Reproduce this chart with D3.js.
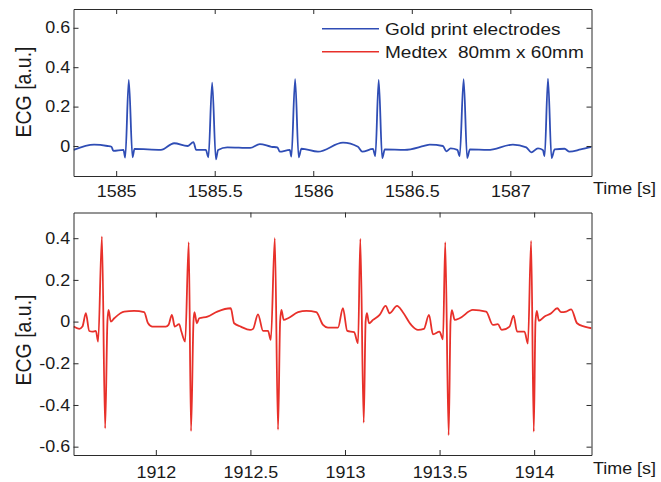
<!DOCTYPE html>
<html><head><meta charset="utf-8">
<script src="https://cdn.jsdelivr.net/npm/d3@7/dist/d3.min.js"></script>
<style>body{margin:0;background:#fff} svg{display:block}</style>
</head><body>
<svg id="chart" width="661" height="482"></svg>
<script>
// ---- data ----
const seriesNames = ["Gold print electrodes", "Medtex  80mm x 60mm"];
const goldTime = [1584.784, 1584.888, 1584.956, 1584.976, 1584.986, 1585.037, 1585.046, 1585.064, 1585.083, 1585.093,
  1585.227, 1585.294, 1585.362, 1585.392, 1585.406, 1585.455, 1585.468, 1585.487, 1585.506, 1585.517,
  1585.564, 1585.680, 1585.729, 1585.788, 1585.818, 1585.830, 1585.881, 1585.889, 1585.908, 1585.926,
  1585.940, 1586.024, 1586.151, 1586.227, 1586.249, 1586.303, 1586.315, 1586.332, 1586.350, 1586.363,
  1586.464, 1586.562, 1586.591, 1586.658, 1586.675, 1586.697, 1586.731, 1586.743, 1586.763, 1586.781,
  1586.795, 1586.886, 1587.013, 1587.081, 1587.106, 1587.140, 1587.165, 1587.174, 1587.191, 1587.209,
  1587.225, 1587.275, 1587.300, 1587.357, 1587.412];
const goldECG = [-0.020, 0.007, 0.000, -0.004, -0.025, -0.020, -0.059, 0.335, -0.057, -0.015,
  -0.020, 0.014, 0.000, 0.020, -0.020, -0.020, -0.057, 0.321, -0.068, -0.020,
  -0.007, -0.010, 0.010, -0.004, -0.007, -0.029, -0.020, -0.054, 0.339, -0.057,
  -0.014, -0.029, 0.017, -0.004, -0.029, -0.015, -0.051, 0.335, -0.062, -0.017,
  -0.020, 0.000, 0.007, 0.000, -0.027, -0.012, -0.020, -0.051, 0.339, -0.061,
  -0.017, -0.020, 0.007, -0.007, -0.032, -0.012, -0.020, -0.051, 0.342, -0.061,
  -0.017, -0.014, -0.029, -0.017, -0.004];
const medtexTime = [1911.565, 1911.595, 1911.612, 1911.630, 1911.648, 1911.665, 1911.683, 1911.695, 1911.715, 1911.732,
  1911.744, 1911.750, 1911.762, 1911.780, 1911.833, 1911.885, 1911.938, 1911.959, 1911.982, 1912.053,
  1912.067, 1912.085, 1912.100, 1912.123, 1912.135, 1912.155, 1912.174, 1912.186, 1912.199, 1912.204,
  1912.217, 1912.229, 1912.273, 1912.325, 1912.396, 1912.414, 1912.449, 1912.498, 1912.514, 1912.540,
  1912.567, 1912.593, 1912.608, 1912.629, 1912.646, 1912.657, 1912.664, 1912.676, 1912.699, 1912.752,
  1912.796, 1912.848, 1912.884, 1912.910, 1912.963, 1912.989, 1913.012, 1913.048, 1913.069, 1913.081,
  1913.099, 1913.109, 1913.116, 1913.127, 1913.148, 1913.183, 1913.215, 1913.236, 1913.275, 1913.306,
  1913.350, 1913.386, 1913.417, 1913.444, 1913.465, 1913.500, 1913.518, 1913.530, 1913.548, 1913.558,
  1913.565, 1913.580, 1913.606, 1913.676, 1913.746, 1913.782, 1913.808, 1913.829, 1913.870, 1913.891,
  1913.910, 1913.949, 1913.967, 1913.984, 1913.998, 1914.007, 1914.014, 1914.025, 1914.055, 1914.090,
  1914.122, 1914.143, 1914.169, 1914.196, 1914.227, 1914.266, 1914.303];
const medtexECG = [-0.024, -0.035, -0.024, 0.040, -0.045, -0.048, -0.045, -0.096, 0.408, -0.512,
  0.000, 0.056, 0.000, 0.016, 0.048, 0.051, 0.045, -0.008, -0.024, -0.024,
  -0.016, 0.032, -0.024, -0.012, -0.048, -0.096, 0.381, -0.525, 0.000, 0.045,
  -0.008, 0.016, 0.024, 0.048, 0.064, -0.008, -0.024, -0.040, -0.035, 0.035,
  -0.045, -0.045, -0.088, 0.400, -0.518, 0.000, 0.056, 0.008, 0.016, 0.045,
  0.051, 0.045, -0.016, -0.029, -0.029, 0.064, -0.045, -0.051, -0.104, 0.397,
  -0.485, 0.000, 0.040, -0.008, 0.008, 0.032, 0.075, 0.040, 0.075, 0.045,
  -0.016, -0.040, -0.035, 0.032, -0.061, -0.048, -0.085, 0.381, -0.545, 0.000,
  0.055, 0.008, 0.016, 0.056, 0.048, -0.016, -0.012, -0.040, -0.024, 0.029,
  -0.048, -0.048, -0.106, 0.387, -0.528, 0.000, 0.051, 0.004, 0.024, 0.040,
  0.064, 0.045, 0.048, 0.059, -0.008, -0.024, -0.032];
const topXTicks = [1585, 1585.5, 1586, 1586.5, 1587];
const topYTicks = [0, 0.2, 0.4, 0.6];
const botXTicks = [1912, 1912.5, 1913, 1913.5, 1914];
const botYTicks = [-0.6, -0.4, -0.2, 0, 0.2, 0.4];
const xLabel = "Time [s]";
const yLabel = "ECG [a.u.]";

// ---- layout ----
const FONT = "'Liberation Sans', Arial, Helvetica, sans-serif";
const SX = 1.12;            // horizontal text stretch of the original
const TXT = "#1a1a1a";
const AX = "#2b2b2b";
const colors = ["#2f4db5", "#e8302a"];
const L = 73.5, R = 591.5;

const panels = [
  {time: goldTime, val: goldECG, color: colors[0], top: 9, bottom: 176,
   xDom: [1584.7835, 1587.4118], yDom: [-0.1523, 0.6954], xTicks: topXTicks, yTicks: topYTicks,
   xPad: 10, ylabY: 92, tlabY: 194},
  {time: medtexTime, val: medtexECG, color: colors[1], top: 212.5, bottom: 455,
   xDom: [1911.5647, 1914.3032], yDom: [-0.64, 0.5233], xTicks: botXTicks, yTicks: botYTicks,
   xPad: 12, ylabY: 340, tlabY: 473.5}
];

const svg = d3.select("#chart");
const fmt = v => (v === 0 ? "0" : String(v).replace("\u2212", "-"));

panels.forEach((p, i) => {
  const x = d3.scaleLinear().domain(p.xDom).range([L, R]);
  const y = d3.scaleLinear().domain(p.yDom).range([p.bottom, p.top]);
  const g = svg.append("g");

  svg.append("clipPath").attr("id", "clip" + i).append("rect")
    .attr("x", L).attr("y", p.top).attr("width", R - L).attr("height", p.bottom - p.top);

  const pts = p.time.map((t, k) => [t, p.val[k]]);
  g.append("path").datum(pts)
    .attr("clip-path", `url(#clip${i})`)
    .attr("fill", "none").attr("stroke", p.color).attr("stroke-width", 1.8)
    .attr("stroke-linejoin", "round")
    .attr("d", d3.line().curve(d3.curveMonotoneX).x(d => x(d[0])).y(d => y(d[1])));

  const styleAxis = sel => {
    sel.select(".domain").attr("stroke", AX).attr("stroke-width", 1);
    sel.selectAll(".tick line").attr("stroke", AX).attr("stroke-width", 1);
    sel.selectAll("text").attr("fill", TXT).style("font-family", FONT).style("font-size", "16px");
  };
  const ax = g.append("g").attr("transform", `translate(0,${p.bottom})`)
    .call(d3.axisBottom(x).tickValues(p.xTicks).tickSizeInner(-5).tickSizeOuter(0).tickPadding(p.xPad).tickFormat(fmt))
    .call(styleAxis);
  ax.selectAll(".tick text").attr("transform", `scale(${SX},1)`);
  g.append("g").attr("transform", `translate(0,${p.top})`)
    .call(d3.axisTop(x).tickValues(p.xTicks).tickSizeInner(-5).tickSizeOuter(0).tickFormat(""))
    .call(styleAxis);
  const ay = g.append("g").attr("transform", `translate(${L},0)`)
    .call(d3.axisLeft(y).tickValues(p.yTicks).tickSizeInner(-5).tickSizeOuter(0).tickPadding(3).tickFormat(fmt))
    .call(styleAxis);
  ay.selectAll(".tick text").attr("transform", `scale(${SX},1)`);
  g.append("g").attr("transform", `translate(${R},0)`)
    .call(d3.axisRight(y).tickValues(p.yTicks).tickSizeInner(-5).tickSizeOuter(0).tickFormat(""))
    .call(styleAxis);
  g.selectAll(".domain").attr("fill", "none");

  g.append("text").text(yLabel)
    .attr("transform", `translate(23.5,${p.ylabY}) scale(${SX},1) rotate(-90)`)
    .attr("text-anchor", "middle").attr("dy", "0.36em")
    .attr("fill", TXT).style("font-family", FONT).style("font-size", "19.5px");
  g.append("text").text(xLabel)
    .attr("transform", `translate(593,${p.tlabY}) scale(${SX},1)`)
    .attr("fill", TXT).style("font-family", FONT).style("font-size", "16px");
});

// legend (top panel)
const leg = svg.append("g");
[0, 1].forEach(k => {
  const ly = [28.7, 51.7][k];
  leg.append("line").attr("x1", 322).attr("x2", 379).attr("y1", ly).attr("y2", ly)
    .attr("stroke", colors[k]).attr("stroke-width", 1.5);
  leg.append("text").text(seriesNames[k])
    .attr("transform", `translate(385,${[34.7, 58.3][k]}) scale(${SX},1)`)
    .attr("xml:space", "preserve").style("white-space", "pre")
    .attr("fill", TXT).style("font-family", FONT).style("font-size", "17px");
});
</script>
</body></html>
